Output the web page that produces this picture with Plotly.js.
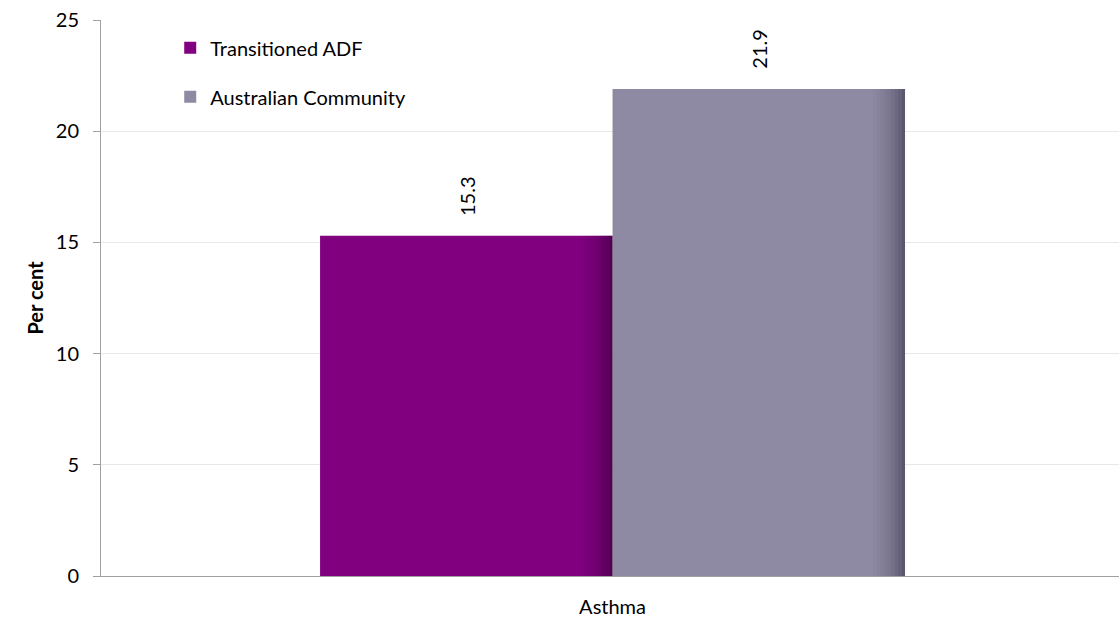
<!DOCTYPE html>
<html>
<head>
<meta charset="utf-8">
<script src="https://cdn.plot.ly/plotly-3.0.1.min.js"></script>
<style>html,body{margin:0;padding:0;background:#fff}#chart{width:1119px;height:620px}</style>
</head>
<body>
<div id="chart"></div>
<script>
const categories = ["Asthma"];
const seriesNames = ["Transitioned ADF", "Australian Community"];
const transitionedADF = [15.3];
const australianCommunity = [21.9];
const yTicks = [0, 5, 10, 15, 20, 25];

const colors = ["#800080", "#8f8aa3"];
const shade = ["rgba(40,0,40,", "rgba(40,35,60,"];
const font = "Lato, 'Open Sans', sans-serif";

const barW = 0.2873;
const values = [transitionedADF, australianCommunity];
const traces = [];
const annotations = [];
values.forEach((v, i) => {
  traces.push({
    type: "bar", x: categories, y: v, name: seriesNames[i],
    marker: {color: colors[i], line: {width: 0}},
    width: barW, offset: (i - 1) * barW,
    hoverinfo: "skip", legendgroup: "g" + i
  });
  v.forEach((d, j) => {
    annotations.push({
      x: j + (i - 0.5) * barW, y: d, xref: "x", yref: "y",
      text: d.toFixed(1), textangle: -90, showarrow: false,
      xanchor: "center", yanchor: "bottom", yshift: 18,
      font: {family: font, size: 20, color: "#000"}
    });
  });
});
// right-edge shading overlay (thin strips)
const steps = [0.03, 0.06, 0.1, 0.14, 0.19, 0.25, 0.32, 0.4, 0.5];
values.forEach((v, i) => {
  steps.forEach((a, k) => {
    const w = barW * 0.012;
    traces.push({
      type: "bar", x: categories, y: v, showlegend: false, hoverinfo: "skip",
      marker: {color: shade[i] + a + ")", line: {width: 0}},
      width: w, offset: (i - 1) * barW + barW - w * (steps.length - k),
    });
  });
});

const layout = {
  width: 1119, height: 620,
  margin: {l: 101, r: 0, t: 20, b: 44},
  paper_bgcolor: "#fff", plot_bgcolor: "#fff",
  barmode: "overlay",
  showlegend: true,
  annotations: annotations,
  legend: {x: 0.068, y: 0.985, xanchor: "left", yanchor: "top",
           font: {family: font, size: 20, color: "#000"},
           tracegroupgap: 20, traceorder: "grouped", bgcolor: "rgba(0,0,0,0)"},
  xaxis: {type: "category", showline: true, linecolor: "#a0a0a0", linewidth: 1,
          ticks: "", ticklabelstandoff: 13,
          tickfont: {family: font, size: 20, color: "#000"}, showgrid: false,
          range: [-0.5025, 0.4975]},
  yaxis: {range: [0, 25], tickvals: yTicks, ticktext: yTicks.map(String),
          showline: true, linecolor: "#a0a0a0", linewidth: 1,
          ticks: "outside", ticklen: 7, tickcolor: "#a0a0a0",
          ticklabelstandoff: 10,
          gridcolor: "#e8e8e8", zeroline: false,
          tickfont: {family: font, size: 20, color: "#000"},
          title: {text: "<b>Per cent</b>", font: {family: font, size: 20, color: "#000"}, standoff: 6}}
};
Plotly.newPlot("chart", traces, layout, {displayModeBar: false, staticPlot: true});
</script>
</body>
</html>
